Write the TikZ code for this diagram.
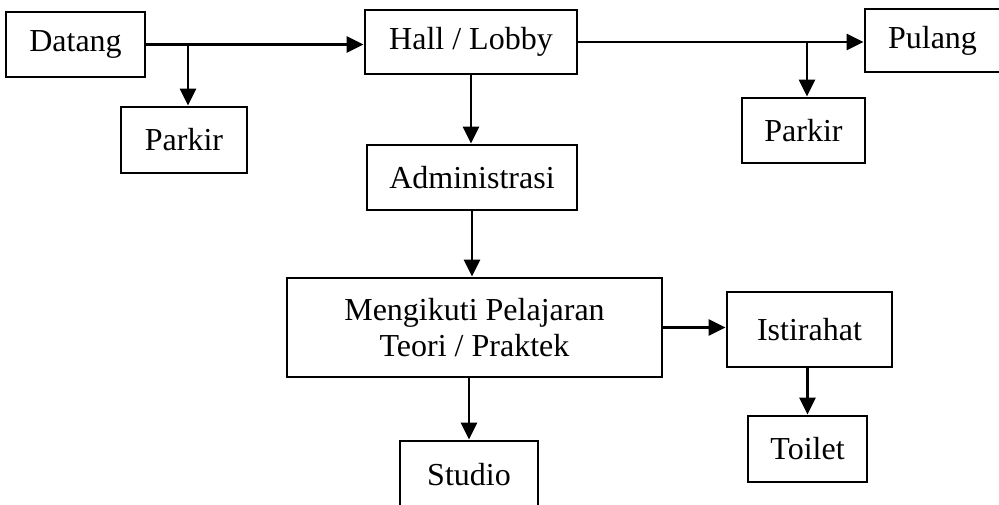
\documentclass[tikz,border=0pt]{standalone}
\usepackage{fontspec}
\setmainfont{Liberation Serif}
\usetikzlibrary{arrows.meta}
\begin{document}
\begin{tikzpicture}[x=1pt, y=-1pt,
        box/.style={draw, line width=2.8pt, inner sep=0pt, align=center, font=\fontsize{32}{36}\selectfont},
        rel/.style={-{Triangle[length=17pt,width=16pt]}, line width=2.6pt}
    ]
        \useasboundingbox (0,0) rectangle (999,505);

        \node[box, minimum width=139pt, minimum height=65pt] (datang) at (75.5,44.5) {Datang};
        \node[box, minimum width=212pt, minimum height=64pt] (hall) at (471,42) {Hall / Lobby};
        \node[box, minimum width=135pt, minimum height=63pt] (pulang) at (932.5,40.5) {Pulang};
        \node[box, minimum width=126pt, minimum height=66pt] (parkirL) at (184,140) {Parkir};
        \node[box, minimum width=123pt, minimum height=65pt] (parkirR) at (803.5,130.5) {Parkir};
        \node[box, minimum width=210pt, minimum height=65pt] (admin) at (472,177.5) {Administrasi};
        \node[box, minimum width=375pt, minimum height=99pt] (ikut) at (474.5,327.5) {Mengikuti Pelajaran\\Teori / Praktek};
        \node[box, minimum width=165pt, minimum height=75pt] (istirahat) at (809.5,329.5) {Istirahat};
        \node[box, minimum width=138pt, minimum height=68pt] (studio) at (469,475) {Studio};
        \node[box, minimum width=119pt, minimum height=66pt] (toilet) at (807.5,449) {Toilet};

        % branch points on the main line
        \coordinate (splitL) at (188,44.5);
        \coordinate (splitR) at (807,42);

        \draw[rel] (datang.east) -- (datang.east -| hall.west);
        \draw[rel] (splitL) -- (splitL |- parkirL.north);
        \draw[rel] (hall.east) -- (hall.east -| pulang.west);
        \draw[rel] (splitR) -- (splitR |- parkirR.north);
        \draw[rel] (hall.south) -- (hall.south |- admin.north);
        \draw[rel] (admin.south) -- (admin.south |- ikut.north);
        \draw[rel] (studio.north |- ikut.south) -- (studio.north);
        \draw[rel] (ikut.east) -- (ikut.east -| istirahat.west);
        \draw[rel] (toilet.north |- istirahat.south) -- (toilet.north);
    \end{tikzpicture}
\end{document}
